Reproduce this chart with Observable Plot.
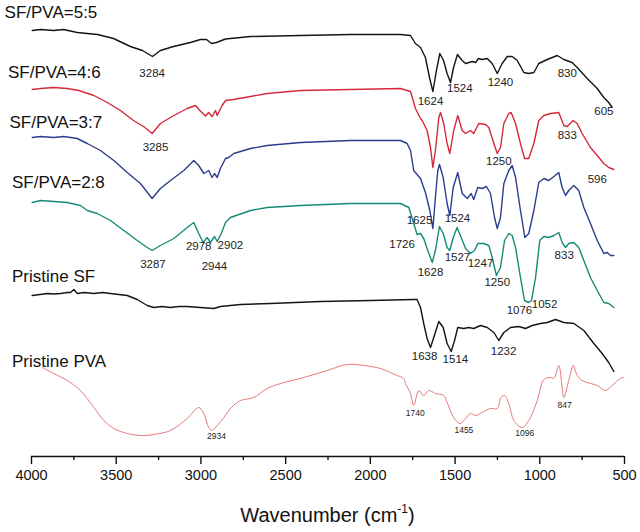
<!DOCTYPE html>
<html><head><meta charset="utf-8">
<script src="https://cdn.jsdelivr.net/npm/d3@7"></script>
<script src="https://cdn.jsdelivr.net/npm/@observablehq/plot@0.6"></script>
<style>
body{margin:0;background:#fff;font-family:"Liberation Sans",Arial,sans-serif;}
#title{width:640px;box-sizing:border-box;padding-left:15px;text-align:center;font-size:20px;height:22px;line-height:22px;margin-top:14px;color:#111}
#title sup{font-size:12px;vertical-align:baseline;position:relative;top:-0.75em;line-height:0}
</style></head><body><div id="chart"></div><div id="title">Wavenumber (cm<sup>-1</sup>)</div>
<script>
// [wavenumber (cm^-1), transmittance (a.u., offset)]
const sfpva55 = [[3996,426],[3947,427],[3870,426],[3811,427],[3730,424],[3610,422],[3516,418],[3416,410],[3345,406],[3286,400],[3239,406],[3162,410],[3062,414],[3003,417],[2967,417],[2938,413],[2908,414],[2855,417.5],[2707,420],[2412,421],[2117,422],[1822,422],[1763,421],[1734,413],[1704,409],[1675,399],[1651,379],[1631,365],[1610,386],[1590,403],[1568,396],[1547,383],[1527,374],[1509,389],[1486,402],[1458,396],[1438,393],[1399,395],[1379,394],[1362,398],[1340,397],[1310,398],[1281,393],[1251,383],[1222,393],[1192,400],[1163,400],[1133,396],[1094,384],[1065,383],[1035,384],[1006,393],[956,397],[897,401],[858,397],[809,394],[779,389],[720,378],[661,368],[622,359],[593,354],[573,349]];
const sfpva46 = [[3996,367],[3947,368],[3868,369],[3789,368],[3721,366],[3632,361],[3553,354],[3475,346],[3398,336],[3339,330],[3288,323],[3239,333],[3160,341],[3081,348],[3032,351],[3003,345.5],[2973,340.5],[2955,344],[2934,340],[2914,346],[2904,341],[2875,351],[2855,356],[2808,357],[2707,360],[2609,363],[2412,366],[2117,367],[1822,368],[1763,365],[1734,348],[1704,338],[1694,336],[1665,326],[1645,309],[1631,289],[1616,306],[1596,339],[1586,344],[1567,333],[1547,313],[1531,303],[1508,326],[1484,341],[1458,326],[1438,323],[1409,326],[1390,323],[1360,333],[1320,332],[1301,329],[1271,313],[1251,303],[1232,309],[1212,333],[1183,343],[1169,344],[1143,333],[1114,313],[1090,298],[1065,298],[1035,313],[1006,336],[976,341],[937,343],[888,344],[858,331],[838,330],[803,336],[779,333],[750,323],[701,309],[661,301],[622,293],[593,289],[563,287]];
const sfpva37 = [[3996,319],[3947,320],[3868,319],[3809,320],[3730,318],[3671,313],[3593,306],[3514,296],[3435,284],[3357,273],[3288,258],[3239,268],[3180,276],[3101,286],[3042,296],[3013,291],[2983,283],[2954,286],[2934,279],[2920,283],[2904,279],[2885,288],[2855,298],[2836,299],[2806,303],[2707,308],[2609,311],[2412,314],[2117,316],[1822,316],[1783,313],[1763,306],[1744,286],[1704,278],[1675,264],[1649,246],[1631,228],[1616,259],[1602,286],[1592,292],[1570,279],[1547,253],[1531,241],[1511,269],[1484,284],[1458,263],[1428,258],[1405,263],[1390,257],[1366,269],[1340,268],[1315,270],[1291,263],[1267,239],[1251,228],[1232,239],[1212,273],[1183,286],[1163,291],[1143,279],[1114,246],[1088,219],[1065,223],[1035,246],[1006,274],[976,278],[947,276],[917,280],[888,284],[868,269],[848,261],[829,266],[799,271],[770,266],[740,249],[701,233],[661,216],[622,203],[602,204],[583,201],[563,201]];
const sfpva28 = [[3996,254],[3947,256],[3868,255],[3789,254],[3711,251],[3671,246],[3612,243],[3534,236],[3455,226],[3376,216],[3317,209],[3288,206],[3239,211],[3160,218],[3081,229],[3042,234],[3013,223],[2987,214],[2963,219],[2944,214],[2920,220],[2904,215],[2880,223],[2855,234],[2826,239],[2707,246],[2609,249],[2412,251],[2117,253],[1822,253],[1773,249],[1744,233],[1724,222],[1704,223],[1685,218],[1661,206],[1635,194],[1616,206],[1592,230],[1570,223],[1547,209],[1531,206],[1511,219],[1488,229],[1464,219],[1438,208],[1409,203],[1385,206],[1366,213],[1330,213],[1301,211],[1281,199],[1256,181],[1232,189],[1208,216],[1183,223],[1163,221],[1143,209],[1114,179],[1090,156],[1065,154],[1049,156],[1025,179],[1000,216],[976,220],[947,219],[917,221],[888,224],[868,214],[848,209],[829,213],[799,214],[770,209],[740,196],[701,179],[661,166],[622,154],[593,153],[563,149]];
const pristineSF = [[3996,161],[3950,162],[3907,163],[3870,162.5],[3829,163],[3790,164],[3770,164],[3750,167],[3730,163],[3690,164],[3632,163],[3580,164],[3534,163],[3435,161],[3376,157],[3317,151],[3278,149],[3230,150],[3180,149],[3130,150],[3081,150],[3003,149],[2924,148],[2885,150],[2766,152],[2589,153],[2294,155],[1999,156],[1744,157],[1724,157],[1704,149],[1685,133],[1665,118],[1645,109],[1626,119],[1596,135],[1570,129],[1547,113],[1523,105],[1503,116],[1484,129],[1449,128],[1419,129],[1390,128],[1350,131],[1310,129],[1271,124],[1242,116],[1212,124],[1173,129],[1124,130],[1084,128],[1045,131],[996,133],[956,134],[907,137],[858,134],[799,133],[740,126],[681,113],[632,103],[593,94],[563,85]];
const pristinePVA = [[3937,89],[3868,83],[3789,76],[3711,66],[3632,49],[3573,36],[3514,28],[3435,23],[3357,21],[3278,22],[3180,26],[3081,38],[3013,49],[2983,43],[2954,29],[2934,26],[2904,31],[2865,39],[2826,48],[2766,56],[2688,59],[2609,68],[2530,73],[2393,79],[2255,86],[2137,92],[2039,91],[1940,88],[1842,81],[1803,78],[1793,73],[1763,63],[1744,51],[1714,66],[1685,61],[1655,66],[1616,63],[1567,61],[1547,54],[1508,39],[1472,33],[1438,38],[1409,43],[1379,41],[1340,44],[1291,48],[1251,48],[1228,59],[1208,61],[1183,53],[1153,36],[1104,29],[1065,36],[1015,56],[976,77],[937,79],[917,78],[888,91],[868,69],[858,59],[829,76],[803,91],[779,81],[750,76],[701,73],[661,71],[612,66],[573,71],[524,78],[504,79]];

// peak annotations: [label, wavenumber position, transmittance position]
const peaks55 = [["3284",3288,383],["1624",1645,355],["1524",1472,368],["1240",1232,374],["830",838,383],["605",622,345]];
const peaks46 = [["3285",3268,309],["1250",1242,295],["833",838,321],["596",661,277]];
const peaks37 = [["1625",1710,236],["1524",1486,238.5]];
const peaks28 = [["3287",3283,192],["2978",3013,210],["2944",2920,190],["2902",2826,211],["1726",1813,212],["1628",1645,184],["1527",1486,199],["1247",1350,193],["1250",1251,174],["1076",1120,146],["1052",972,152],["833",856,201]];
const peaksSF = [["1638",1680,100],["1514",1498,97],["1232",1214,105]];
const peaksPVA = [["2934",2908,20],["1740",1735,43],["1455",1448,26],["1096",1089,23],["847",854,51]];

const seriesNames = ["SF/PVA=5:5","SF/PVA=4:6","SF/PVA=3:7","SF/PVA=2:8","Pristine SF","Pristine PVA"];
const nameWn = [4159,4139,4130,4115,4115,4115];
const nameT = [444,384,334,274,180,95];
const seriesColors = ["#141414","#d6283a","#2b3d8c","#168a78","#141414","#e05a5a"];

const xTicks = [4000,3500,3000,2500,2000,1500,1000,500];
const xMinor = [3750,3250,2750,2250,1750,1250,750];

const allSeries = [sfpva55,sfpva46,sfpva37,sfpva28,pristineSF,pristinePVA];
const rows = [];
allSeries.forEach((s,i)=>s.forEach(([w,t])=>rows.push({name:seriesNames[i],w,t})));
const mainRows = rows.filter(d=>d.name!=="Pristine PVA");
const pvaRows = rows.filter(d=>d.name==="Pristine PVA");
const toObj = a => a.map(([label,w,t])=>({label,w,t}));
const bigPeaks = [peaks55,peaks46,peaks37,peaks28,peaksSF].flatMap(toObj);
const smallPeaks = toObj(peaksPVA);
const nameLabels = seriesNames.map((n,i)=>({n,w:nameWn[i],t:nameT[i]}));

const chart = Plot.plot({
  width:640, height:490,
  marginLeft:31, marginRight:16, marginTop:0, marginBottom:34,
  style:{fontFamily:"'Liberation Sans', Arial, sans-serif", fontSize:"14.5px", background:"#fff", color:"#111", overflow:"visible"},
  x:{domain:[4000,500]},
  y:{domain:[0,456], axis:null},
  color:{domain:seriesNames, range:seriesColors},
  marks:[
    Plot.ruleY([0],{stroke:"#111", strokeWidth:1.4}),
    Plot.axisX({ticks:xTicks, tickSize:8, tickPadding:5, tickFormat:d=>String(d), label:null, strokeWidth:1.4, fill:"#111", fontSize:14.5}),
    Plot.axisX({ticks:xMinor, tickSize:4, tickFormat:()=>"", label:null, strokeWidth:1.4}),
    Plot.line(mainRows,{x:"w", y:"t", z:"name", stroke:"name", strokeWidth:1.4}),
    Plot.line(pvaRows,{x:"w", y:"t", stroke:"name", strokeWidth:0.9, curve:"catmull-rom", strokeOpacity:0.9}),
    Plot.text(bigPeaks,{x:"w", y:"t", text:"label", fontSize:11.5, fill:"#222"}),
    Plot.text(smallPeaks,{x:"w", y:"t", text:"label", fontSize:8.5, fill:"#222"}),
    Plot.text(nameLabels,{x:"w", y:"t", text:"n", textAnchor:"start", fontSize:17, fill:"#111"})
  ]
});
document.getElementById("chart").appendChild(chart);
</script>
</body></html>
